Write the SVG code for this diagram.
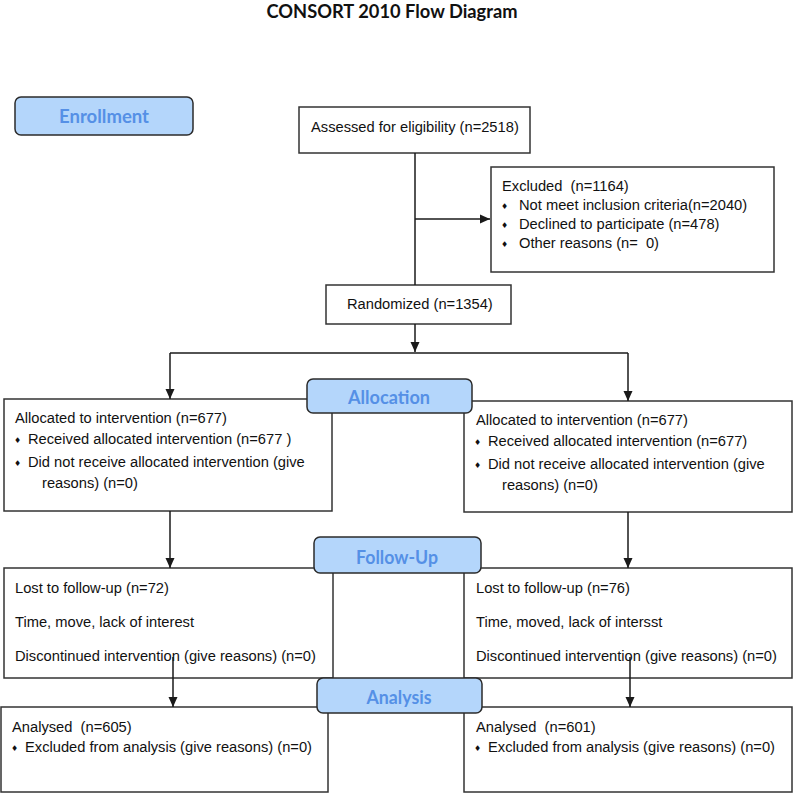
<svg xmlns="http://www.w3.org/2000/svg" width="793" height="793" viewBox="0 0 793 793">
<defs>
<style>
.box{fill:#fff;stroke:#333;stroke-width:1.5}
.lbl{fill:#b4d6fb;stroke:#2b2b2b;stroke-width:1.5}
.lt{font-family:Lato,"Open Sans","Liberation Sans",sans-serif;font-weight:bold;font-size:18px;fill:#5590e6;text-anchor:middle}
.t{font-family:"Liberation Sans",Arial,sans-serif;font-size:14.7px;fill:#111}
.b{font-family:"DejaVu Sans",sans-serif;font-size:8px;fill:#111}
.c{fill:none;stroke:#1a1a1a;stroke-width:1.5}
</style>
<marker id="ah" markerWidth="10" markerHeight="10" viewBox="0 0 10 10" refX="10" refY="5" orient="auto" markerUnits="userSpaceOnUse">
<path d="M0,0.5 L10,5 L0,9.5 Z" fill="#1a1a1a"/>
</marker>
</defs>
<rect width="793" height="793" fill="#fff"/>
<text x="392" y="18" text-anchor="middle" font-family="Lato,'Open Sans','Liberation Sans',sans-serif" font-weight="bold" font-size="18" fill="#111" textLength="251" lengthAdjust="spacingAndGlyphs">CONSORT 2010 Flow Diagram</text>

<g id="assessed">
<rect class="box" x="299" y="107" width="231" height="46"/>
<text class="t" x="311" y="132">Assessed for eligibility (n=2518)</text>
</g>

<g id="excluded">
<rect class="box" x="491" y="167" width="283" height="105"/>
<text class="t" x="502" y="191" xml:space="preserve">Excluded  (n=1164)</text>
<text class="b" x="501" y="209">♦</text>
<text class="t" x="519" y="210">Not meet inclusion criteria(n=2040)</text>
<text class="b" x="501" y="228">♦</text>
<text class="t" x="519" y="229">Declined to participate (n=478)</text>
<text class="b" x="501" y="247">♦</text>
<text class="t" x="519" y="248" xml:space="preserve">Other reasons (n=  0)</text>
</g>

<g id="randomized">
<rect class="box" x="326" y="285" width="185" height="39"/>
<text class="t" x="347" y="309">Randomized (n=1354)</text>
</g>

<g id="alloc-left">
<rect class="box" x="4" y="399" width="328" height="112"/>
<text class="t" x="15" y="423">Allocated to intervention (n=677)</text>
<text class="b" x="14" y="443">♦</text>
<text class="t" x="28" y="444">Received allocated intervention (n=677 )</text>
<text class="b" x="14" y="466">♦</text>
<text class="t" x="28" y="467">Did not receive allocated intervention (give</text>
<text class="t" x="42" y="488">reasons) (n=0)</text>
</g>

<g id="alloc-right">
<rect class="box" x="464" y="401" width="328" height="111"/>
<text class="t" x="476" y="425">Allocated to intervention (n=677)</text>
<text class="b" x="474" y="445">♦</text>
<text class="t" x="488" y="446">Received allocated intervention (n=677)</text>
<text class="b" x="474" y="468">♦</text>
<text class="t" x="488" y="469">Did not receive allocated intervention (give</text>
<text class="t" x="502" y="490">reasons) (n=0)</text>
</g>

<g id="follow-left">
<rect class="box" x="4" y="568" width="329" height="110"/>
<text class="t" x="15" y="593">Lost to follow-up (n=72)</text>
<text class="t" x="15" y="627">Time, move, lack of interest</text>
<text class="t" x="15" y="661">Discontinued intervention (give reasons) (n=0)</text>
</g>

<g id="follow-right">
<rect class="box" x="464" y="568" width="328" height="110"/>
<text class="t" x="476" y="593">Lost to follow-up (n=76)</text>
<text class="t" x="476" y="627">Time, moved, lack of intersst</text>
<text class="t" x="476" y="661">Discontinued intervention (give reasons) (n=0)</text>
</g>

<g id="analysis-left">
<rect class="box" x="1" y="707" width="327" height="85"/>
<text class="t" x="12" y="732" xml:space="preserve">Analysed  (n=605)</text>
<text class="b" x="11" y="751">♦</text>
<text class="t" x="25" y="752">Excluded from analysis (give reasons) (n=0)</text>
</g>

<g id="analysis-right">
<rect class="box" x="464" y="707" width="328" height="85"/>
<text class="t" x="476" y="732" xml:space="preserve">Analysed  (n=601)</text>
<text class="b" x="474" y="751">♦</text>
<text class="t" x="488" y="752">Excluded from analysis (give reasons) (n=0)</text>
</g>

<g id="connectors">
<path class="c" d="M415,153 V285"/>
<path class="c" d="M415,219 H490" marker-end="url(#ah)"/>
<path class="c" d="M415,324 V352" marker-end="url(#ah)"/>
<path class="c" d="M170,353 H628"/>
<path class="c" d="M170,353 V399" marker-end="url(#ah)"/>
<path class="c" d="M628,353 V401" marker-end="url(#ah)"/>
<path class="c" d="M170,511 V568" marker-end="url(#ah)"/>
<path class="c" d="M628,512 V568" marker-end="url(#ah)"/>
<path class="c" d="M173,657 V707" marker-end="url(#ah)"/>
<path class="c" d="M630,657 V707" marker-end="url(#ah)"/>
</g>

<g id="enrollment">
<rect class="lbl" x="15" y="97" width="178" height="38" rx="6"/>
<text class="lt" x="104" y="123" textLength="90" lengthAdjust="spacingAndGlyphs">Enrollment</text>
</g>
<g id="allocation">
<rect class="lbl" x="307" y="379" width="165" height="34" rx="6"/>
<text class="lt" x="389" y="404" textLength="82" lengthAdjust="spacingAndGlyphs">Allocation</text>
</g>
<g id="followup">
<rect class="lbl" x="314" y="537" width="167" height="36" rx="6"/>
<text class="lt" x="397" y="564" textLength="82" lengthAdjust="spacingAndGlyphs">Follow-Up</text>
</g>
<g id="analysis">
<rect class="lbl" x="317" y="678" width="165" height="35" rx="6"/>
<text class="lt" x="399" y="704" textLength="65" lengthAdjust="spacingAndGlyphs">Analysis</text>
</g>
</svg>
